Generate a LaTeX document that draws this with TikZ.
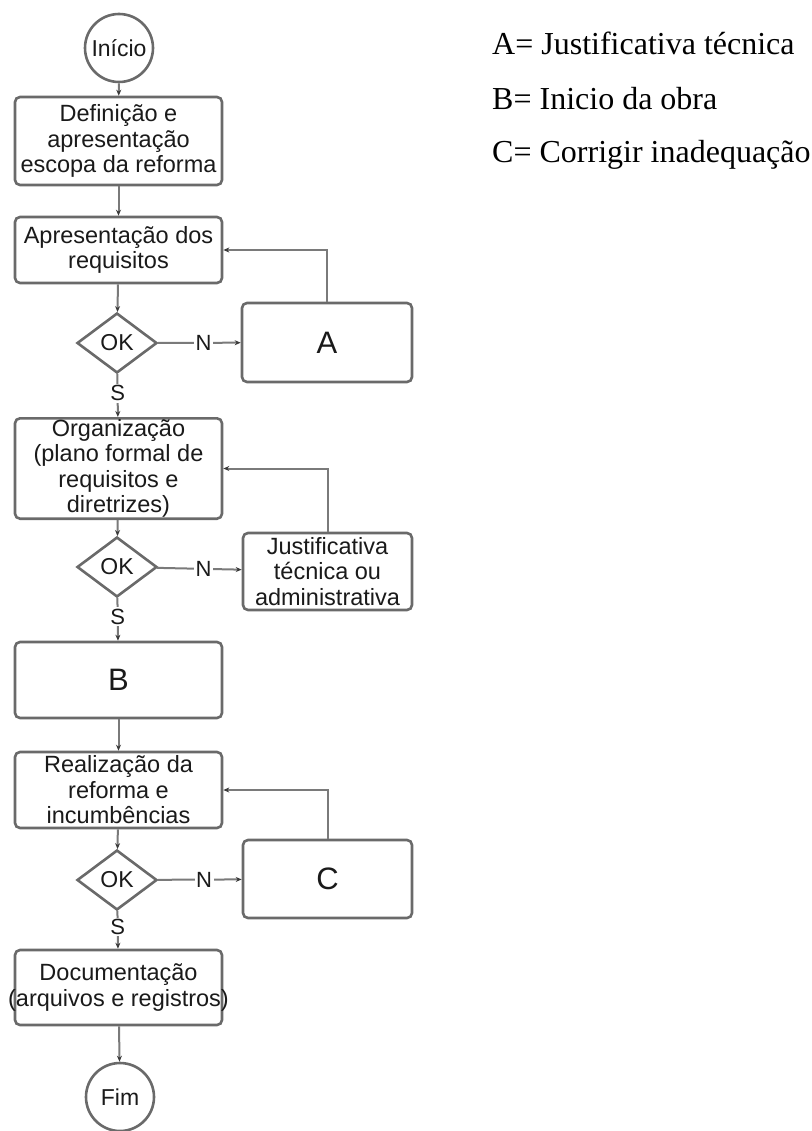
\documentclass[tikz,border=0pt]{standalone}
\usepackage{fontspec}
\setmainfont{Liberation Sans}
\newfontfamily\serifleg{Liberation Serif}
\usetikzlibrary{shapes.geometric,arrows.meta}
\definecolor{boxgray}{HTML}{6A6A6A}
\definecolor{linegray}{HTML}{7A7A7A}
\definecolor{txt}{HTML}{1A1A1A}
\definecolor{tipgray}{HTML}{3A3A3A}
\tikzset{
 stepbox/.style={draw=boxgray, line width=2.6pt, rounded corners=5pt, fill=white, text=txt, align=center, inner sep=1pt, minimum width=207pt, font=\fontsize{23.5}{25.5}\selectfont},
 sidebox/.style={stepbox, minimum width=169pt},
 term/.style={circle, draw=boxgray, line width=2.6pt, fill=white, minimum size=68pt, inner sep=0pt, text=txt, font=\fontsize{23}{26}\selectfont},
 decision/.style={diamond, draw=boxgray, line width=2.6pt, fill=white, minimum width=80pt, minimum height=60pt, inner sep=0pt, text=txt, font=\fontsize{23}{26}\selectfont},
 conn/.style={draw=linegray, line width=2pt, -{Stealth[length=6pt,width=5pt,color=tipgray]}},
 lbl/.style={fill=white, inner sep=1.5pt, text=txt, font=\fontsize{22}{24}\selectfont},
 legend/.style={anchor=base west, inner sep=0pt, text=black, font=\serifleg\fontsize{32}{36}\selectfont},
}
\begin{document}
\begin{tikzpicture}[x=1pt,y=-1pt]
\useasboundingbox (0,0) rectangle (811,1131);
% main column
\node[term] (start) at (119,48) {Início};
\node[stepbox, minimum height=88pt] (def) at (118.5,141) {Definição e\\apresentação\\escopa da reforma};
\node[stepbox, minimum height=66pt] (req) at (118.5,250) {Apresentação dos\\requisitos};
\node[decision] (ok1) at (117,343) {OK};
\node[sidebox, minimum width=170pt, minimum height=79pt, font=\fontsize{31}{34}\selectfont] (A) at (327,342.5) {A};
\node[stepbox, minimum height=93pt] (org) at (118.5,468.5) {Organização\\(plano formal de\\requisitos e\\diretrizes)};
\node[decision] (ok2) at (117,567) {OK};
\node[sidebox, minimum height=77pt] (just) at (327.5,571.5) {Justificativa\\técnica ou\\administrativa};
\node[stepbox, minimum height=76pt, font=\fontsize{31}{34}\selectfont] (B) at (118.5,680) {B};
\node[stepbox, minimum height=76pt] (real) at (118.5,790) {Realização da\\reforma e\\incumbências};
\node[decision] (ok3) at (117,880) {OK};
\node[sidebox, minimum height=78pt, font=\fontsize{31}{34}\selectfont] (C) at (327.5,879) {C};
\node[stepbox, minimum height=75pt] (doc) at (118.5,987.5) {Documentação\\\makebox[200pt]{(arquivos e registros)}};
\node[term] (fim) at (120,1097) {Fim};
% connectors
\draw[conn] (start) -- (def);
\draw[conn] (def) -- (req);
\draw[conn] (req) -- (ok1);
\draw[conn] (ok1) -- node[lbl, pos=0.55] {N} (A);
\draw[conn] (A.north) |- (req.east);
\draw[conn] (ok1) -- node[lbl, pos=0.45] {S} (org);
\draw[conn] (org) -- (ok2);
\draw[conn] (ok2) -- node[lbl, pos=0.55] {N} (just);
\draw[conn] (just.north) |- (org.east);
\draw[conn] (ok2) -- node[lbl, pos=0.44] {S} (B);
\draw[conn] (B) -- (real);
\draw[conn] (real) -- (ok3);
\draw[conn] (ok3) -- node[lbl, pos=0.55] {N} (C);
\draw[conn] (C.north) |- (real.east);
\draw[conn] (ok3) -- node[lbl, pos=0.43] {S} (doc);
\draw[conn] (doc) -- (fim);
% legend
\node[legend] (la) at (492,55) {A= Justificativa técnica};
\node[legend] (lb) at (492,110) {B= Inicio da obra};
\node[legend] (lc) at (492,163) {C= Corrigir inadequação};
\end{tikzpicture}
\end{document}
